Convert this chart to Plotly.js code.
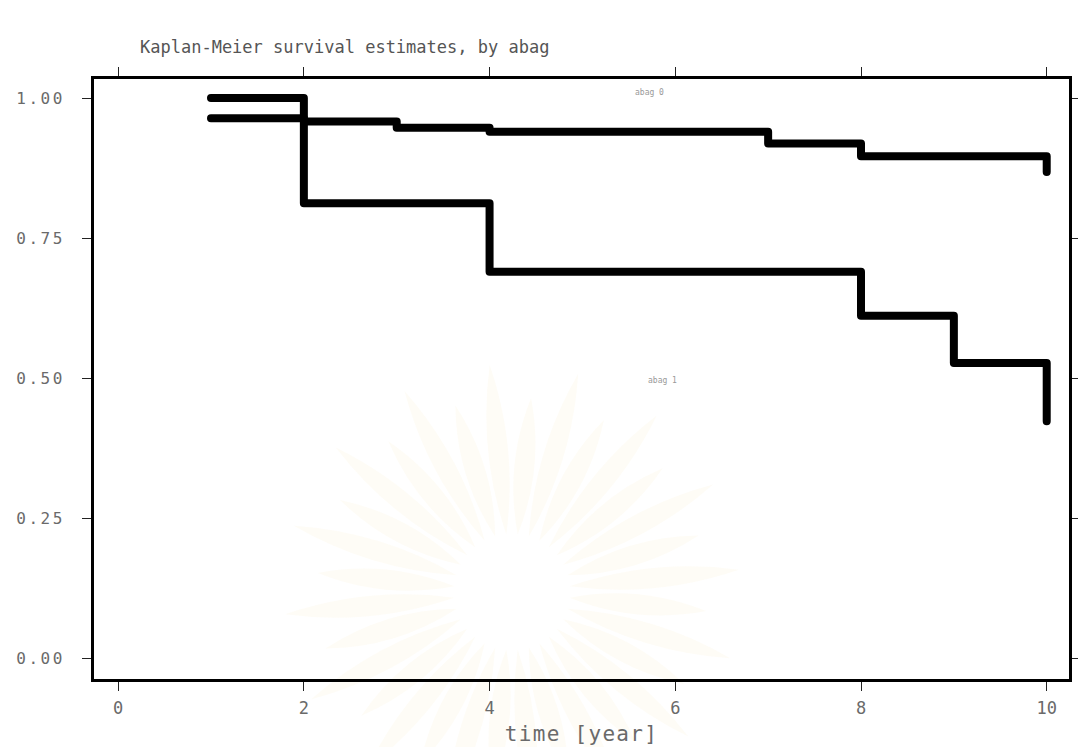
<!DOCTYPE html>
<html>
<head>
<meta charset="utf-8">
<script src="https://cdn.plot.ly/plotly-3.0.1.min.js"></script>
<style>
  html, body { margin: 0; padding: 0; background: #ffffff; }
  #chart { width: 1078px; height: 747px; }
</style>
</head>
<body>
<div id="chart"></div>
<script>
// Kaplan-Meier step estimates per group (time in years, survival probability)
const timeAbag0 = [1, 2, 3, 4, 7, 8, 10, 10];
const survAbag0 = [0.964, 0.958, 0.947, 0.940, 0.919, 0.896, 0.896, 0.868];

const timeAbag1 = [1, 2, 4, 8, 9, 10, 10];
const survAbag1 = [1.000, 0.812, 0.690, 0.611, 0.527, 0.527, 0.423];

const xTicks = [0, 2, 4, 6, 8, 10];
const yTicks = [0, 0.25, 0.5, 0.75, 1.0];
const yTickText = ['0.00', '0.25', '0.50', '0.75', '1.00'];

const groupLabels = ['abag 0', 'abag 1'];

const mono = 'DejaVu Sans Mono, Liberation Mono, monospace';
const textGrey = '#6a6a6a';

const stepLine = { color: '#000000', width: 8, shape: 'hv' };

const traces = [
  { x: timeAbag0, y: survAbag0, type: 'scatter', mode: 'lines', line: stepLine, name: groupLabels[0], hoverinfo: 'skip' },
  { x: timeAbag1, y: survAbag1, type: 'scatter', mode: 'lines', line: stepLine, name: groupLabels[1], hoverinfo: 'skip' }
];

// faint sunburst emblem printed behind the plot (page decoration)
const emblemShapes = [];
(function () {
  const n = 32, inner = 58, w = 20;
  for (let i = 0; i < n; i++) {
    const a = (i + 0.5) * 2 * Math.PI / n;
    const outer = i % 2 ? 195 : 228;
    const ux = Math.cos(a), uy = Math.sin(a);
    const px = -uy, py = ux;
    const x0 = inner * ux, y0 = inner * uy;
    const x1 = outer * ux, y1 = outer * uy;
    const mr = (inner + outer) / 2;
    const mx = mr * ux, my = mr * uy;
    const f = v => v.toFixed(1);
    const path = 'M' + f(x0) + ',' + f(y0) +
      ' Q' + f(mx + px * w) + ',' + f(my + py * w) + ' ' + f(x1) + ',' + f(y1) +
      ' Q' + f(mx - px * w) + ',' + f(my - py * w) + ' ' + f(x0) + ',' + f(y0) + ' Z';
    emblemShapes.push({
      type: 'path', path: path, layer: 'below',
      xref: 'paper', yref: 'paper',
      xsizemode: 'pixel', ysizemode: 'pixel',
      xanchor: (512 - 94) / 975, yanchor: (679 - 592) / 600,
      fillcolor: 'rgba(240,222,160,0.09)', line: { width: 0 }
    });
  }
})();

const layout = {
  width: 1078,
  height: 747,
  paper_bgcolor: '#ffffff',
  plot_bgcolor: 'rgba(0,0,0,0)',
  showlegend: false,
  margin: { l: 94, r: 9, t: 79, b: 68 },
  title: {
    text: 'Kaplan-Meier survival estimates, by abag',
    font: { family: mono, size: 17, color: '#555555' },
    xref: 'container', yref: 'container',
    x: 140 / 1078, xanchor: 'left',
    y: 1 - 47 / 747, yanchor: 'middle'
  },
  xaxis: {
    range: [-0.26, 10.24],
    tickvals: xTicks,
    ticktext: xTicks.map(String),
    ticks: 'outside', ticklen: 9, tickwidth: 1, tickcolor: '#222222',
    ticklabelstandoff: 3,
    tickfont: { family: mono, size: 17, color: textGrey },
    title: {
      text: 'time [year]',
      font: { family: mono, size: 21, color: textGrey },
      standoff: 9
    },
    showgrid: false, zeroline: false,
    showline: true, linecolor: '#000000', linewidth: 3, mirror: 'ticks'
  },
  yaxis: {
    range: [-0.0375, 1.034],
    tickvals: yTicks,
    ticktext: yTickText,
    ticks: 'outside', ticklen: 9, tickwidth: 1, tickcolor: '#222222',
    ticklabelstandoff: 14,
    tickfont: { family: mono, size: 16, color: textGrey },
    showgrid: false, zeroline: false,
    showline: true, linecolor: '#000000', linewidth: 3, mirror: 'ticks'
  },
  shapes: emblemShapes,
  annotations: [
    {
      text: groupLabels[0], xref: 'x', yref: 'y', x: 5.72, y: 1.01,
      showarrow: false, font: { family: mono, size: 8, color: '#999999' }
    },
    {
      text: groupLabels[1], xref: 'x', yref: 'y', x: 5.86, y: 0.495,
      showarrow: false, font: { family: mono, size: 8, color: '#999999' }
    }
  ]
};

Plotly.newPlot('chart', traces, layout, { staticPlot: true, displayModeBar: false }).then(function (gd) {
  // rounded joins and caps on the step curves
  gd.querySelectorAll('.scatterlayer path.js-line').forEach(function (p) {
    p.style.strokeLinejoin = 'round';
    p.style.strokeLinecap = 'round';
  });
  // widely spaced typewriter-style lettering on axis text
  gd.querySelectorAll('.ytick text').forEach(function (t) { t.style.letterSpacing = '2.5px'; });
  gd.querySelectorAll('.g-xtitle text').forEach(function (t) { t.style.letterSpacing = '1.3px'; });
});
</script>
</body>
</html>
